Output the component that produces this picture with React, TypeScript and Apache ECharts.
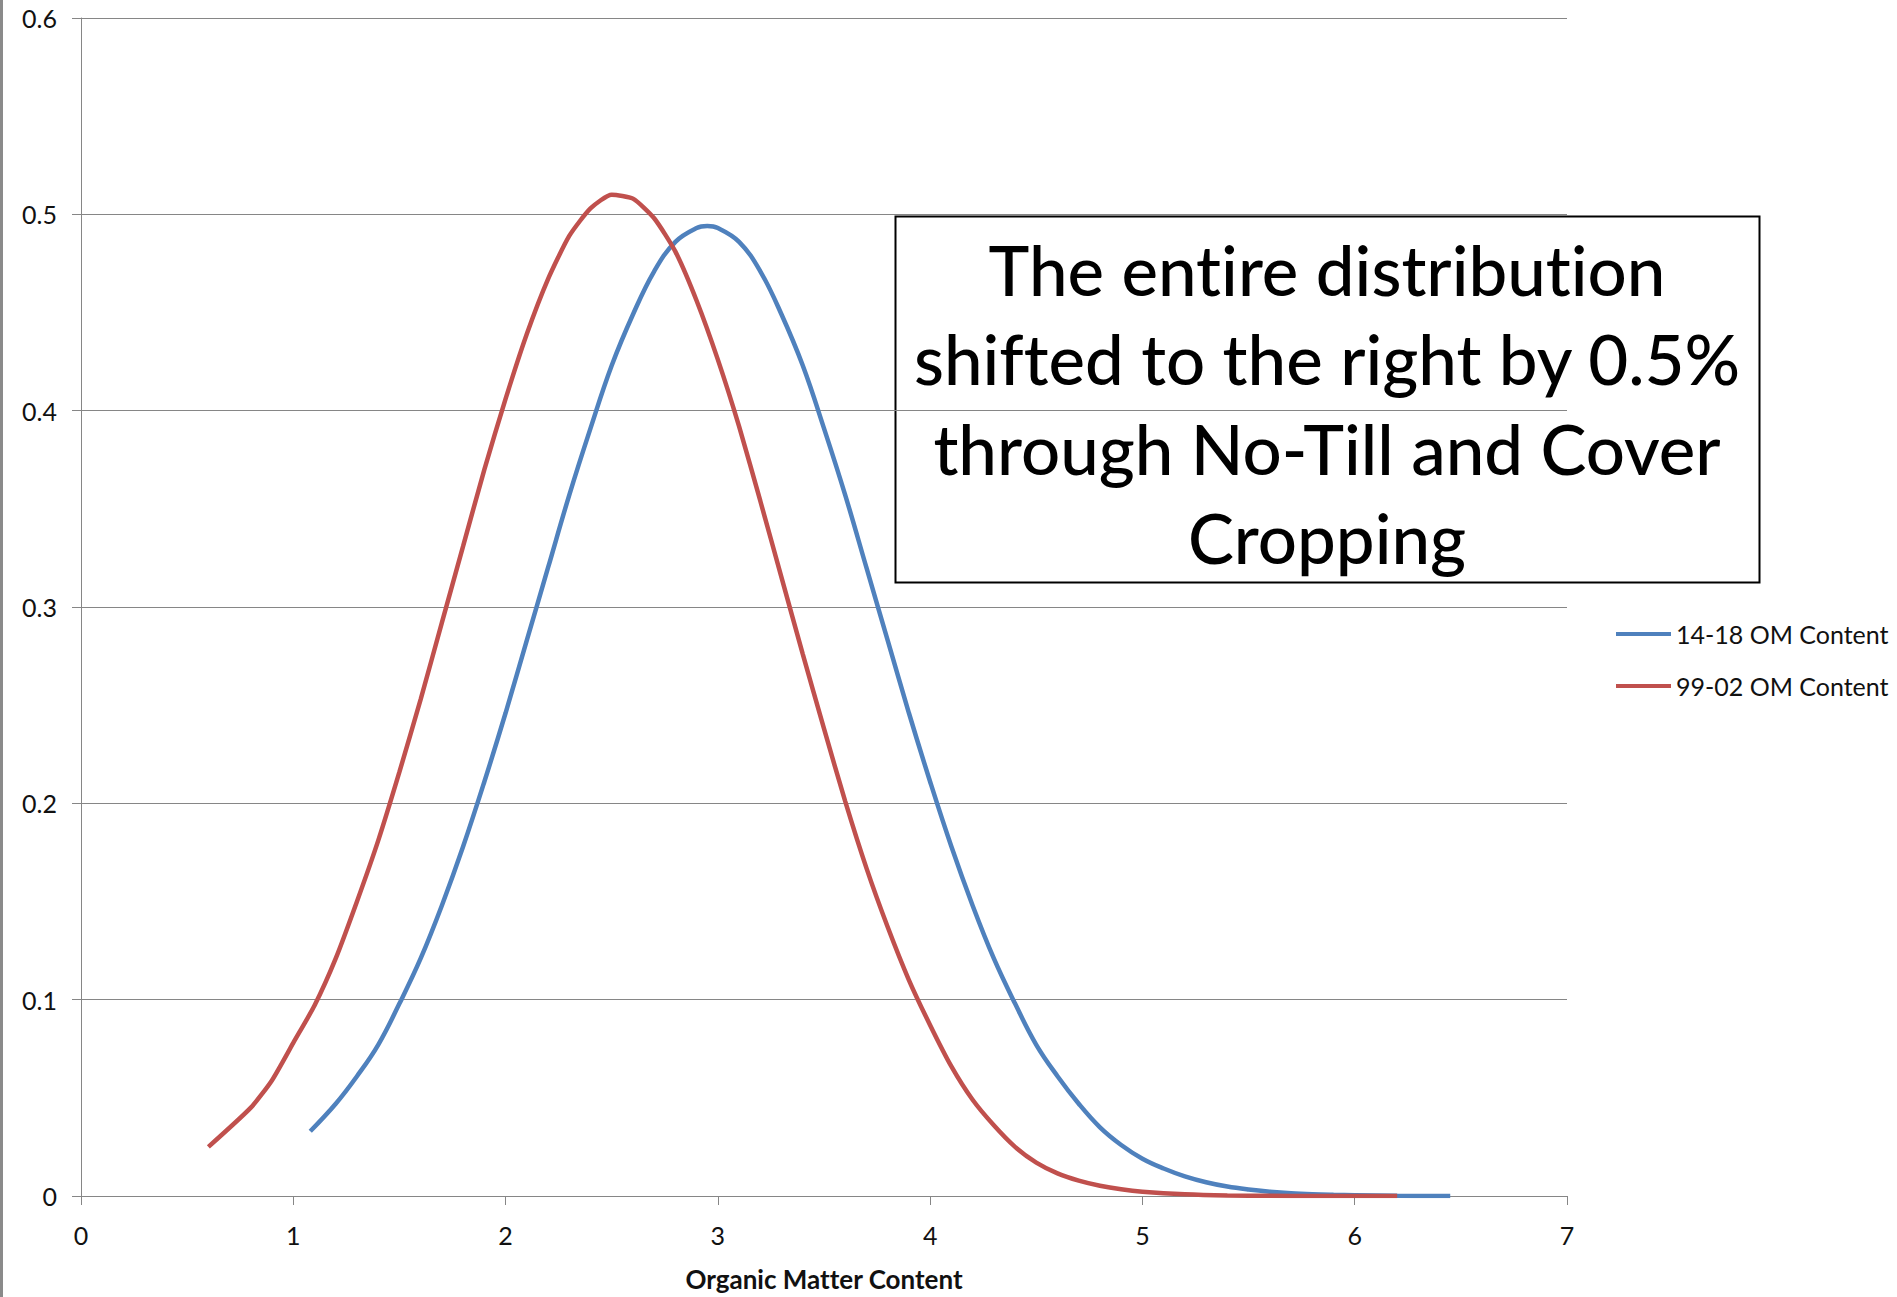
import React, { useEffect, useRef } from "react";
import * as echarts from "echarts";

// Organic matter content (x) and density (y) for each survey period
const RED_X = [0.6, 0.8, 0.9, 1.0, 1.1, 1.2, 1.3, 1.4, 1.5, 1.6, 1.7, 1.8, 1.9, 2.0, 2.1, 2.2, 2.3, 2.4, 2.5, 2.6, 2.7, 2.8, 2.9, 3.0, 3.1, 3.2, 3.3, 3.4, 3.5, 3.6, 3.7, 3.8, 3.9, 4.0, 4.1, 4.2, 4.3, 4.4, 4.5, 4.6, 4.7, 4.8, 4.9, 5.0, 5.2, 5.4, 5.6, 5.8, 6.0, 6.2];
const RED_Y = [0.025, 0.045, 0.059, 0.078, 0.097, 0.121, 0.15, 0.181, 0.216, 0.253, 0.292, 0.331, 0.37, 0.406, 0.439, 0.467, 0.489, 0.503, 0.51, 0.508, 0.498, 0.481, 0.456, 0.426, 0.392, 0.354, 0.315, 0.276, 0.238, 0.201, 0.167, 0.137, 0.11, 0.087, 0.066, 0.049, 0.036, 0.025, 0.017, 0.0115, 0.0078, 0.0052, 0.0034, 0.0022, 0.0009, 0.0003, 0.0001, 0.00003, 0.00001, 0];

const BLUE_X = [1.08, 1.2, 1.3, 1.4, 1.5, 1.6, 1.7, 1.8, 1.9, 2.0, 2.1, 2.2, 2.3, 2.4, 2.5, 2.6, 2.7, 2.8, 2.9, 2.95, 3.0, 3.1, 3.2, 3.3, 3.4, 3.5, 3.6, 3.7, 3.8, 3.9, 4.0, 4.1, 4.2, 4.3, 4.4, 4.5, 4.6, 4.7, 4.8, 4.9, 5.0, 5.1, 5.2, 5.3, 5.4, 5.5, 5.6, 5.7, 5.8, 5.9, 6.0, 6.2, 6.45];
const BLUE_Y = [0.033, 0.047, 0.061, 0.077, 0.098, 0.121, 0.148, 0.178, 0.211, 0.246, 0.283, 0.32, 0.357, 0.391, 0.423, 0.449, 0.471, 0.486, 0.493, 0.494, 0.493, 0.486, 0.471, 0.449, 0.423, 0.391, 0.357, 0.32, 0.283, 0.246, 0.211, 0.178, 0.148, 0.121, 0.098, 0.077, 0.061, 0.047, 0.035, 0.026, 0.019, 0.014, 0.01, 0.007, 0.0048, 0.0033, 0.0022, 0.0014, 0.0009, 0.0006, 0.0004, 0.0001, 0];

const SERIES_NAMES = ["14-18 OM Content", "99-02 OM Content"];
const X_AXIS_NAME = "Organic Matter Content";
const NOTE_LINES = [
  "The entire distribution",
  "shifted to the right by 0.5%",
  "through No-Till and Cover",
  "Cropping",
];

const FONT = "Lato";
const GRID_GRAY = "#868686";
const BLUE = "#4F81BD";
const RED = "#C0504D";

function pairs(xs: number[], ys: number[]): number[][] {
  return xs.map((x, i) => [x, ys[i]]);
}

export default function App() {
  const ref = useRef<HTMLDivElement>(null);

  useEffect(() => {
    if (!ref.current) return;
    const chart = echarts.init(ref.current, undefined, { renderer: "svg" });
    chart.setOption({
      animation: false,
      backgroundColor: "#ffffff",
      textStyle: { fontFamily: FONT },
      grid: { left: 81, top: 18, width: 1486, height: 1183, containLabel: false },
      xAxis: {
        type: "value",
        min: 0,
        max: 7,
        interval: 1,
        name: X_AXIS_NAME,
        nameLocation: "middle",
        nameGap: 70,
        nameTextStyle: { fontFamily: FONT, fontSize: 26, fontWeight: "bold", color: "#111" },
        axisLine: { show: true, lineStyle: { color: GRID_GRAY, width: 1 } },
        axisTick: { show: true, length: 9, lineStyle: { color: GRID_GRAY } },
        axisLabel: { fontFamily: FONT, fontSize: 25, color: "#111", margin: 26 },
        splitLine: { show: false },
      },
      yAxis: {
        type: "value",
        min: 0,
        max: 0.6,
        interval: 0.1,
        axisLine: { show: true, lineStyle: { color: GRID_GRAY, width: 1 } },
        axisTick: { show: true, length: 9, lineStyle: { color: GRID_GRAY } },
        axisLabel: { fontFamily: FONT, fontSize: 25, color: "#111", margin: 24 },
        splitLine: { show: true, lineStyle: { color: GRID_GRAY, width: 1 } },
      },
      legend: {
        orient: "vertical",
        left: 1611,
        top: 614,
        icon: "rect",
        itemWidth: 55,
        itemHeight: 4,
        itemGap: 22,
        textStyle: { fontFamily: FONT, fontSize: 25, color: "#111", lineHeight: 30 },
        data: SERIES_NAMES,
      },
      series: [
        {
          name: SERIES_NAMES[0],
          type: "line",
          data: pairs(BLUE_X, BLUE_Y),
          symbol: "none",
          smooth: 0.4,
          lineStyle: { color: BLUE, width: 4.5 },
          itemStyle: { color: BLUE },
          z: 2,
        },
        {
          name: SERIES_NAMES[1],
          type: "line",
          data: pairs(RED_X, RED_Y),
          symbol: "none",
          smooth: 0.2,
          lineStyle: { color: RED, width: 4.5 },
          itemStyle: { color: RED },
          z: 3,
        },
      ],
      graphic: [
        {
          type: "rect",
          left: 0,
          top: 0,
          shape: { width: 3, height: 1297 },
          style: { fill: "#8a8a8a" },
          silent: true,
        },
        {
          type: "group",
          z: 100,
          children: [
            {
              type: "rect",
              x: 0,
              y: 0,
              shape: { x: 895.5, y: 216.5, width: 864, height: 366 },
              style: { fill: "#ffffff", stroke: "#000000", lineWidth: 2 },
            },
            {
              type: "text",
              x: 1327,
              y: 403.5,
              style: {
                text: NOTE_LINES.join("\n"),
                fontFamily: FONT,
                fontSize: 69,
                fontWeight: 500,
                lineHeight: 89.5,
                fill: "#000000",
                align: "center",
                verticalAlign: "middle",
              },
            },
          ],
        },
      ],
    });
    return () => chart.dispose();
  }, []);

  return (
    <div
      ref={ref}
      style={{
        position: "fixed",
        left: 0,
        top: 0,
        width: 1897,
        height: 1297,
        background: "#fff",
        fontVariantLigatures: "none",
      }}
    />
  );
}
